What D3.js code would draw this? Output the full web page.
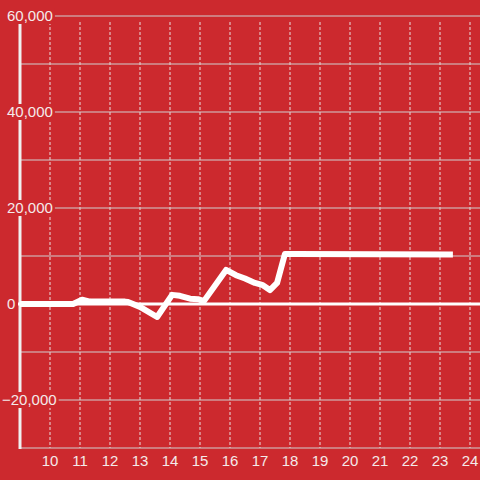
<!DOCTYPE html>
<html><head><meta charset="utf-8">
<script src="https://cdn.jsdelivr.net/npm/d3@7"></script>
<style>html,body{margin:0;padding:0;background:#cc292e;}svg{display:block;}</style>
</head><body>
<svg id="c" width="480" height="480"></svg>
<script>
const hours  = [9.0, 10.77, 11.07, 11.33, 12.5, 12.6, 13.0, 13.57, 14.07, 14.33, 14.67, 14.93, 15.13, 15.87, 16.2, 16.5, 16.83, 17.07, 17.33, 17.57, 17.83, 18.17, 23.43];
const values = [0, 0, 900, 500, 500, 400, -600, -2700, 1900, 1700, 1100, 1000, 600, 7100, 6000, 5300, 4400, 4000, 2900, 4400, 10400, 10400, 10300];
const xTicks = [10,11,12,13,14,15,16,17,18,19,20,21,22,23,24];
const yGrid = [-30000,-20000,-10000,0,10000,20000,30000,40000,50000,60000];
const yLabels = [-20000,0,20000,40000,60000];

const bg = "#cc292e";
const font = "Liberation Sans, Arial, sans-serif";
const svg = d3.select("#c");
svg.append("rect").attr("width",480).attr("height",480).attr("fill",bg);

const x = d3.scaleLinear().domain([9, 24 + 1/3]).range([20, 480]);
const y = d3.scaleLinear().domain([-30000, 60000]).range([448, 16]);

// vertical dotted grid
svg.append("g").selectAll("line").data(xTicks).join("line")
  .attr("x1", d => x(d)).attr("x2", d => x(d))
  .attr("y1", 22).attr("y2", 448)
  .attr("stroke", "#e8e0e0").attr("stroke-width", 1).attr("stroke-dasharray", "3,2");

// horizontal grid
svg.append("g").selectAll("line").data(yGrid.filter(d => d !== 0)).join("line")
  .attr("x1", 20).attr("x2", 480)
  .attr("y1", d => y(d)).attr("y2", d => y(d))
  .attr("stroke", "#d0d0d0").attr("stroke-width", 1.2);

// y axis line
svg.append("line").attr("x1", 20).attr("x2", 20).attr("y1", 16).attr("y2", 449)
  .attr("stroke", "#f0f0f0").attr("stroke-width", 3);

// zero line
svg.append("line").attr("x1", 18).attr("x2", 480).attr("y1", y(0)).attr("y2", y(0))
  .attr("stroke", "#ffffff").attr("stroke-width", 3);

// data line
const pts = hours.map((h, i) => [h, values[i]]);
svg.append("path").datum(pts)
  .attr("d", d3.line().x(d => x(d[0])).y(d => y(d[1])))
  .attr("fill", "none").attr("stroke", "#ffffff").attr("stroke-width", 6)
  .attr("stroke-linejoin", "round");

// y labels with background
const fmt = d3.format(",");
const yl = svg.append("g");
yLabels.forEach(v => {
  const g = yl.append("g");
  const r = g.append("rect").attr("fill", bg);
  const t = g.append("text").attr("y", y(v)).attr("dy", "0.35em")
    .attr("text-anchor", "start").attr("font-family", font)
    .attr("font-size", 15).attr("fill", "#f4eaea").text(fmt(v));
  const minus = v < 0 ? 5 : 0;
  const x0 = 7 - minus;
  t.attr("x", x0);
  const w = t.node().getComputedTextLength();
  r.attr("x", x0 - 1).attr("y", y(v) - 8).attr("width", w + 3).attr("height", 16);
});

// x labels
svg.append("g").selectAll("text").data(xTicks).join("text")
  .attr("x", d => x(d)).attr("y", 466)
  .attr("text-anchor", "middle").attr("font-family", font)
  .attr("font-size", 15).attr("fill", "#f4eaea").text(d => d);
</script>
</body></html>
